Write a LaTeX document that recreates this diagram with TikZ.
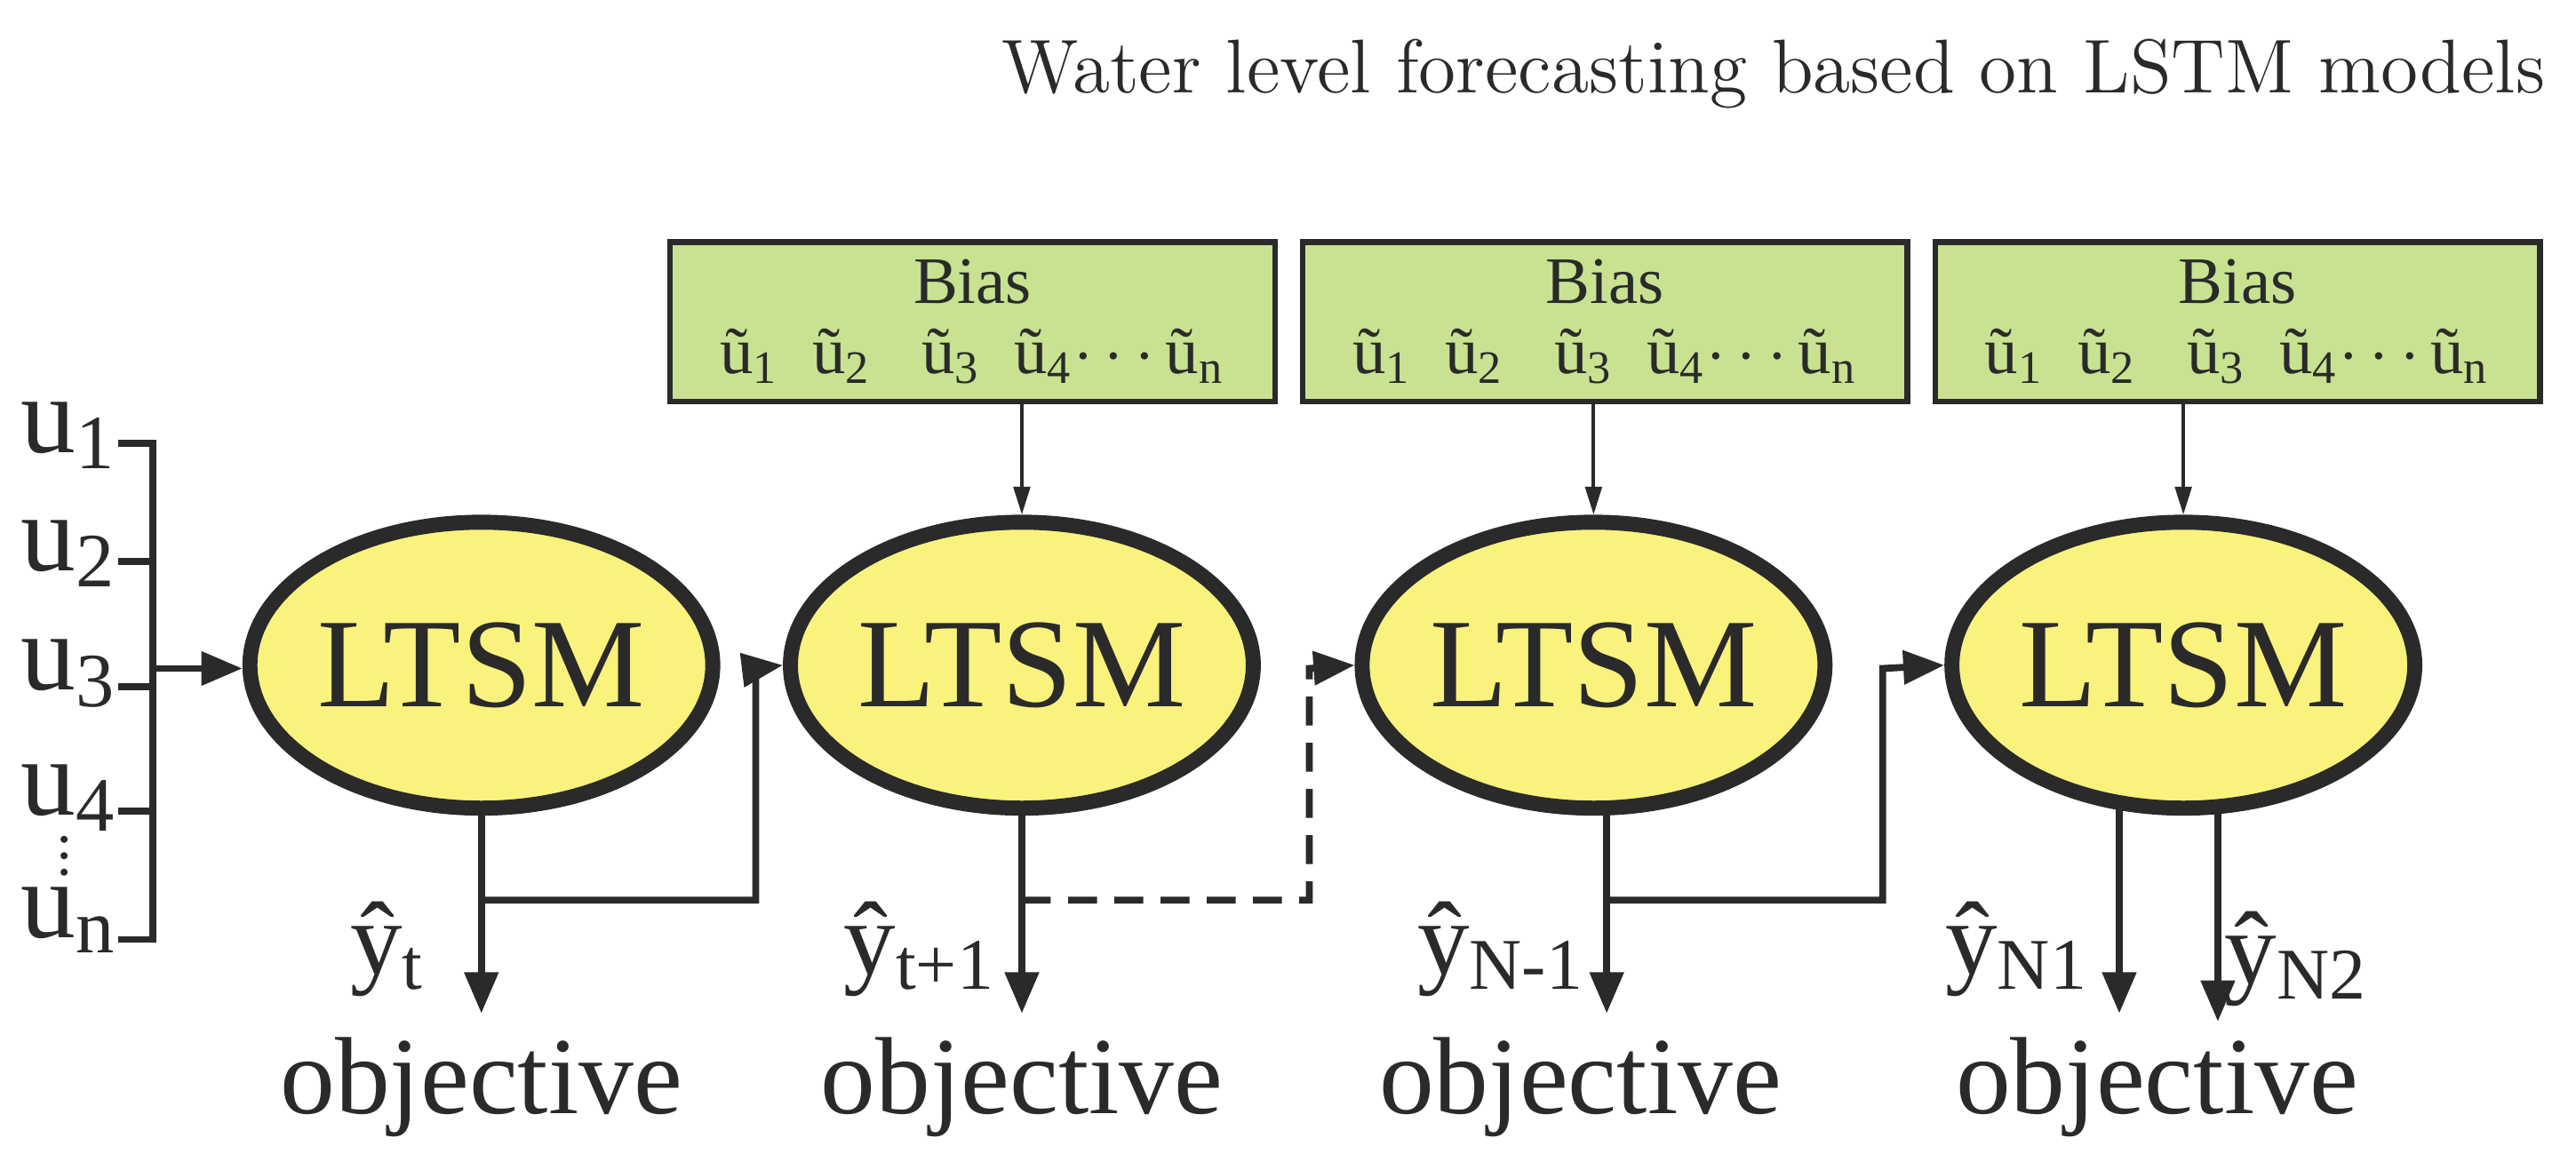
\documentclass[tikz,border=0pt]{standalone}
\usepackage{fontspec}
\setmainfont{Liberation Serif}
\newfontfamily\lmfont{Latin Modern Roman}
\usetikzlibrary{arrows.meta,shapes.geometric}
\definecolor{lstm}{HTML}{F9F27C}
\definecolor{bias}{HTML}{C8E291}
\definecolor{ink}{HTML}{2A2A2A}
\tikzset{
  cell/.style={ellipse,draw=ink,line width=2.6pt,fill=lstm,minimum width=2.02cm,minimum height=1.74cm,font=\fontsize{22}{24}\selectfont,inner sep=0pt},
  biasbox/.style={draw=ink,line width=1pt,fill=bias,minimum width=3.68cm,minimum height=0.97cm,font=\fontsize{11.5}{13}\selectfont,align=center,inner sep=0pt},
  conn/.style={draw=ink,line width=1.2pt,-{Triangle[length=0.25cm,width=0.2cm]}},
  thin/.style={draw=ink,line width=0.6pt,-{Triangle[length=0.17cm,width=0.1cm]}},
  obj/.style={font=\fontsize{19}{21}\selectfont,inner sep=0pt},
  ylab/.style={font=\fontsize{18}{20}\selectfont,inner sep=0pt},
  ulab/.style={font=\fontsize{19}{21}\selectfont,inner sep=0pt},
}
\newcommand{\biastext}{Bias\\[-1pt]\~u\textsubscript{1}\ \ \~u\textsubscript{2}\ \ \ \~u\textsubscript{3}\ \ \~u\textsubscript{4}$\cdots$\,\~u\textsubscript{n}}
\begin{document}
\begin{tikzpicture}[x=0.01cm,y=-0.01cm,color=ink]
\useasboundingbox (0,0) rectangle (1568,707);
\node[anchor=east,font=\lmfont\fontsize{13.2}{15}\selectfont,inner sep=0pt] (title) at (1550,45) {Water level forecasting based on LSTM models};
% cells
\node[cell] (c1) at (293,405) {LTSM};
\node[cell] (c2) at (622,405) {LTSM};
\node[cell] (c3) at (970,405) {LTSM};
\node[cell] (c4) at (1329,405) {LTSM};
% bias boxes
\node[biasbox] (b2) at (592,196) {\biastext};
\node[biasbox] (b3) at (977,196) {\biastext};
\node[biasbox] (b4) at (1362,196) {\biastext};
\draw[thin] (b2.south -| c2) -- (c2.north);
\draw[thin] (b3.south -| c3) -- (c3.north);
\draw[thin] (b4.south -| c4) -- (c4.north);
% input bracket
\coordinate (t1) at (72,270); \coordinate (t2) at (72,342); \coordinate (t3) at (72,418);
\coordinate (t4) at (72,494); \coordinate (t5) at (72,572);
\coordinate (v1) at (93,270); \coordinate (v5) at (93,572);
\draw[ink,line width=1.2pt] (t1) -- (v1) -- (v5) -- (t5);
\draw[ink,line width=1.2pt] (t2) -- (93,342) (t3) -- (93,418) (t4) -- (93,494);
\node[ulab] (u1) at (42,265) {u\textsubscript{1}};
\node[ulab] (u2) at (42,337) {u\textsubscript{2}};
\node[ulab] (u3) at (42,410) {u\textsubscript{3}};
\node[ulab] (u4) at (42,486) {u\textsubscript{4}};
\node[ulab] (un) at (42,560) {u\textsubscript{n}};
\foreach \yy in {511,521,531} \fill[ink] (39,\yy) circle (2.2);
\coordinate (in) at (93,407);
\draw[conn] (in) -- (in -| c1.west);
% outputs
\coordinate (o1) at (293,617); \coordinate (o2) at (622,617); \coordinate (o3) at (978,617);
\coordinate (o4a) at (1290,617); \coordinate (o4b) at (1350,622);
\draw[conn] (c1.south) -- (o1);
\draw[conn] (c2.south) -- (o2);
\draw[conn] (c3.south -| o3) -- (o3);
\draw[conn] (1290,490) -- (o4a);
\draw[conn] (1350,492) -- (o4b);
\coordinate (j1) at (293,548); \coordinate (j2) at (622,548); \coordinate (j3) at (978,548);
\draw[conn] (j1) -- (460,548) -- (460,407) -- (c2.west);
\draw[conn,dashed,dash pattern=on 5pt off 3pt] (j2) -- (797,548) -- (797,407) -- (c3.west);
\draw[conn] (j3) -- (1146,548) -- (1146,407) -- (c4.west);
% labels
\node[ylab] (y1) at (236,578) {\^{y}\textsubscript{t}};
\node[ylab] (y2) at (560,578) {\^{y}\textsubscript{t+1}};
\node[ylab] (y3) at (914,578) {\^{y}\textsubscript{N-1}};
\node[ylab] (y4) at (1228,578) {\^{y}\textsubscript{N1}};
\node[ylab] (y5) at (1398,584) {\^{y}\textsubscript{N2}};
\node[obj] (ob1) at (293,662) {objective};
\node[obj] (ob2) at (622,662) {objective};
\node[obj] (ob3) at (962,662) {objective};
\node[obj] (ob4) at (1313,662) {objective};
\end{tikzpicture}
\end{document}
